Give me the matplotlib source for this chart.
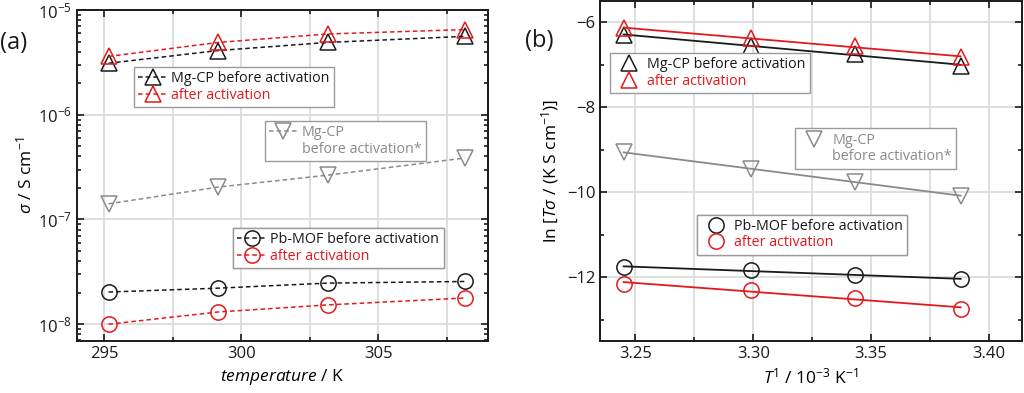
import numpy as np
import matplotlib
matplotlib.use("Agg")
import matplotlib.pyplot as plt
from matplotlib.lines import Line2D
from matplotlib.ticker import MultipleLocator, LogLocator

plt.rcParams['font.family'] = ['Open Sans', 'DejaVu Sans']
plt.rcParams['mathtext.fontset'] = 'custom'
plt.rcParams['mathtext.rm'] = 'Open Sans'
plt.rcParams['mathtext.it'] = 'Open Sans:italic'
plt.rcParams['mathtext.default'] = 'regular'

# temperatures (K)
temperature = [295.15, 299.15, 303.15, 308.15]
# conductivity sigma / S cm-1
mg_before = [3.1e-6, 4.1e-6, 4.9e-6, 5.6e-6]
mg_after = [3.6e-6, 4.9e-6, 5.9e-6, 6.5e-6]
mg_before_star = [1.41e-7, 2.04e-7, 2.65e-7, 3.86e-7]
pb_before = [2.03e-8, 2.21e-8, 2.47e-8, 2.56e-8]
pb_after = [1.0e-8, 1.31e-8, 1.53e-8, 1.78e-8]

# Arrhenius panel: 1/T (10^-3 K^-1) and ln(T sigma)
inv_t = [3.388, 3.343, 3.299, 3.245]
ln_mg_before = [-7.02, -6.75, -6.55, -6.30]
ln_mg_after = [-6.82, -6.57, -6.37, -6.14]
ln_mg_before_star = [-10.08, -9.76, -9.45, -9.06]
ln_pb_before = [-12.05, -11.94, -11.83, -11.76]
ln_pb_after = [-12.75, -12.48, -12.30, -12.15]

BLACK = '#1a1a1a'
RED = '#e3191c'
GRAY = '#8a8a8a'

fig = plt.figure(figsize=(10.24, 3.93), dpi=100)
ax1 = fig.add_axes([0.0752, 0.1323, 0.4014, 0.8423])
ax2 = fig.add_axes([0.586, 0.1323, 0.4120, 0.8652])

mk = dict(markersize=11, markerfacecolor='none', markeredgewidth=1.1)


def style_axes(ax):
    ax.tick_params(which='both', direction='in', top=True, right=True,
                   labelsize=12, width=1.2, colors=BLACK)
    ax.tick_params(which='major', length=5)
    ax.tick_params(which='minor', length=3)
    for s in ax.spines.values():
        s.set_linewidth(1.4)
        s.set_color(BLACK)
    ax.set_axisbelow(True)


def add_legend(ax, handles, x, y):
    leg = ax.legend(handles=handles, loc='upper left', bbox_to_anchor=(x, y),
                    borderaxespad=0, frameon=True, fancybox=False, framealpha=1,
                    edgecolor='#9a9a9a', fontsize=10.3, labelcolor='linecolor',
                    handlelength=2.0, handletextpad=0.3, labelspacing=0.1,
                    borderpad=0.3)
    leg.get_frame().set_linewidth(1.0)
    ax.add_artist(leg)


def blank(color):
    # legend row with text only (second line of a label)
    return Line2D([], [], linestyle='none', marker='none', color=color)


# ---- panel (a)
dash = dict(linestyle=(0, (3, 2)), linewidth=1.1)
l1, = ax1.plot(temperature, mg_before, marker='^', color=BLACK, label='Mg-CP before activation', **dash, **mk)
l2, = ax1.plot(temperature, mg_after, marker='^', color=RED, label='after activation', **dash, **mk)
l3, = ax1.plot(temperature, mg_before_star, marker='v', color=GRAY, label='Mg-CP', **dash, **mk)
l4, = ax1.plot(temperature, pb_before, marker='o', color=BLACK, label='Pb-MOF before activation', **dash, **mk)
l5, = ax1.plot(temperature, pb_after, marker='o', color=RED, label='after activation', **dash, **mk)
l3b = blank(GRAY)
l3b.set_label('before activation*')

ax1.set_yscale('log')
ax1.set_xlim(294, 309)
ax1.set_ylim(10**-8.16, 1e-5)
ax1.xaxis.set_major_locator(MultipleLocator(5))
ax1.xaxis.set_minor_locator(MultipleLocator(2.5))
ax1.yaxis.set_major_locator(LogLocator(base=10, numticks=10))
ax1.yaxis.set_minor_locator(LogLocator(base=10, subs=np.arange(2, 10), numticks=10))
ax1.grid(which='both', axis='x', color='#dcdcdc', linewidth=1.3)
ax1.grid(which='major', axis='y', color='#dcdcdc', linewidth=1.3)
style_axes(ax1)
ax1.set_xlabel(r'$\mathit{temperature}$ / K', fontsize=12.5, labelpad=4)
ax1.set_ylabel(r'$\mathit{\sigma}$ / S cm$^{-1}$', fontsize=12.5, labelpad=2)

add_legend(ax1, [l1, l2], 0.139, 0.828)
add_legend(ax1, [l3, l3b], 0.457, 0.665)
add_legend(ax1, [l4, l5], 0.380, 0.341)

# ---- panel (b)
series_b = [
    (ln_mg_before, '^', BLACK, 'Mg-CP before activation'),
    (ln_mg_after, '^', RED, 'after activation'),
    (ln_mg_before_star, 'v', GRAY, 'Mg-CP'),
    (ln_pb_before, 'o', BLACK, 'Pb-MOF before activation'),
    (ln_pb_after, 'o', RED, 'after activation'),
]
hb = []
for yv, m, c, lab in series_b:
    p = np.polyfit(inv_t, yv, 1)
    xs = np.array([min(inv_t), max(inv_t)])
    ax2.plot(xs, np.polyval(p, xs), color=c, linewidth=1.3)
    h, = ax2.plot(inv_t, yv, linestyle='none', marker=m, color=c, label=lab, **mk)
    hb.append(h)
hb_star = blank(GRAY)
hb_star.set_label('before activation*')

ax2.set_xlim(3.235, 3.414)
ax2.set_ylim(-13.5, -5.5)
ax2.xaxis.set_major_locator(MultipleLocator(0.05))
ax2.xaxis.set_minor_locator(MultipleLocator(0.025))
ax2.yaxis.set_major_locator(MultipleLocator(2))
ax2.yaxis.set_minor_locator(MultipleLocator(1))
ax2.xaxis.set_major_formatter(plt.FormatStrFormatter('%.2f'))
ax2.grid(which='both', axis='x', color='#dcdcdc', linewidth=1.3)
ax2.grid(which='major', axis='y', color='#dcdcdc', linewidth=1.3)
style_axes(ax2)
ax2.set_xlabel(r'$\mathit{T}^{1}$ / 10$^{-3}$ K$^{-1}$', fontsize=12.5, labelpad=4)
ax2.set_ylabel(r'ln [$\mathit{T\sigma}$ / (K S cm$^{-1}$)]', fontsize=12.5, labelpad=4)

add_legend(ax2, hb[0:2], 0.024, 0.847)
add_legend(ax2, [hb[2], hb_star], 0.462, 0.625)
add_legend(ax2, hb[3:5], 0.230, 0.372)

fig.text(0.0, 0.875, '(a)', fontsize=17, color=BLACK)
fig.text(0.513, 0.88, '(b)', fontsize=17, color=BLACK)

fig.savefig('out.png', dpi=100)
